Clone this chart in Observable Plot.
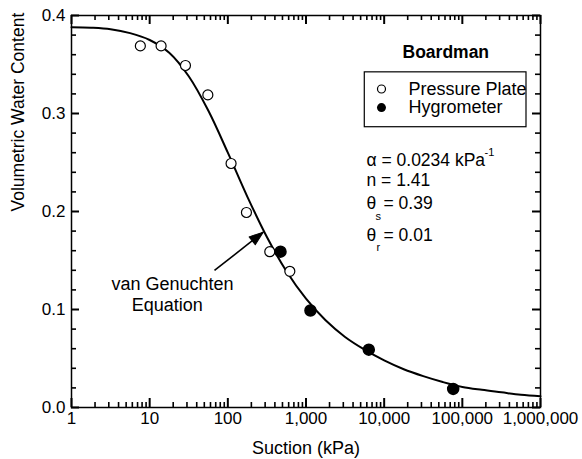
<!DOCTYPE html>
<html><head><meta charset="utf-8">
<script src="https://cdn.jsdelivr.net/npm/d3@7"></script>
<script src="https://cdn.jsdelivr.net/npm/@observablehq/plot@0.6"></script>
<style>
body{margin:0;background:#fff}
svg{font-family:"Liberation Sans",Arial,Helvetica,sans-serif}
</style>
</head><body><div id="chart"></div>
<script>
// ---- data ----
const ppSuction = [7.6, 14, 28.7, 55.5, 110, 173, 344, 621];
const ppTheta   = [0.369, 0.369, 0.349, 0.319, 0.249, 0.199, 0.159, 0.139];
const hySuction = [472, 1140, 6360, 76400];
const hyTheta   = [0.159, 0.099, 0.059, 0.019];

const curveSuction = [1, 1.78, 3.16, 5.62, 10, 17.8, 31.6, 56.2, 100, 178, 316, 562, 1000, 1780, 3160, 5620, 10000, 17800, 31600, 56200, 100000, 178000, 316000, 562000, 1000000];
const curveTheta   = [0.388, 0.3875, 0.386, 0.382, 0.375, 0.362, 0.338, 0.303, 0.260, 0.215, 0.174, 0.139, 0.111, 0.089, 0.072, 0.059, 0.048, 0.039, 0.032, 0.026, 0.021, 0.018, 0.0155, 0.013, 0.0115];

const xTicks = [1, 10, 100, 1000, 10000, 100000, 1000000];
const yTicks = [0, 0.1, 0.2, 0.3, 0.4];
const xMinorMultipliers = [2, 3, 4, 5, 6, 7, 8, 9];
const yMinorStep = 0.02;

const title = "Boardman";
const legendLabels = ["Pressure Plate", "Hygrometer"];
const xLabel = "Suction (kPa)";
const yLabel = "Volumetric Water Content";
const annotationLines = ["van Genuchten", "Equation"];
const paramAlpha = "α = 0.0234 kPa";
const paramAlphaSup = "-1";
const paramN = "n = 1.41";
const paramThetaS = "= 0.39";
const paramThetaR = "= 0.01";

// annotation anchors (data space)
const titlePos = {x: 61400, y: 0.3626};
const legendBox = {x1: 5650, x2: 662000, y1: 0.286, y2: 0.342};
const legendSymX = 9240, legendTextX = 20470, legendY = [0.325, 0.306];
const paramX = 5940, paramY = [0.252, 0.2316, 0.2085, 0.1755];
const arrowFrom = {x: 67.5, y: 0.1398}, arrowTo = {x: 283.5, y: 0.1789};
const annotX = [19.6, 16.8], annotY = [0.1255, 0.104];

// ---- build tables ----
const pp = ppSuction.map((s, i) => ({s, t: ppTheta[i]}));
const hy = hySuction.map((s, i) => ({s, t: hyTheta[i]}));
const curve = curveSuction.map((s, i) => ({s, t: curveTheta[i]}));
const xMinor = xTicks.slice(0, -1).flatMap(d => xMinorMultipliers.map(m => d * m));
const yMinor = d3.range(0, 0.4001, yMinorStep).map(v => +v.toFixed(2)).filter(v => !yTicks.includes(v));

const W = 582, H = 459, ML = 71, MR = 42, MT = 15, MB = 52;
const PW = W - ML - MR, PH = H - MT - MB;
const FONT = "Liberation Sans, Arial, Helvetica, sans-serif";

// filled arrow head
const arrowHead = {
  draw(context, l) {
    context.moveTo(0, -l);
    context.lineTo(-5, -l + 14);
    context.lineTo(5, -l + 14);
    context.closePath();
  }
};
// inward ticks as rules trimmed by pixel insets
const inTicksY = (data, len, sw) => [
  Plot.ruleY(data, {y: d => d, insetRight: PW - len, stroke: "black", strokeWidth: sw}),
  Plot.ruleY(data, {y: d => d, insetLeft: PW - len, stroke: "black", strokeWidth: sw})
];
const inTicksX = (data, len, sw) => [
  Plot.ruleX(data, {x: d => d, insetTop: PH - len, stroke: "black", strokeWidth: sw}),
  Plot.ruleX(data, {x: d => d, insetBottom: PH - len, stroke: "black", strokeWidth: sw})
];

const chart = Plot.plot({
  width: W, height: H,
  marginLeft: ML, marginRight: MR, marginTop: MT, marginBottom: MB,
  style: {fontFamily: FONT, background: "white", color: "black"},
  x: {type: "log", domain: [1, 1e6], label: null},
  y: {domain: [0, 0.4], label: null},
  marks: [
    Plot.axisY(yTicks, {anchor: "left", tickSize: 0, tickPadding: 6, tickFormat: d3.format(".1f"), fontSize: 17, label: null}),
    Plot.axisX(xTicks, {anchor: "bottom", tickSize: 0, tickPadding: 4, tickFormat: d3.format(","), fontSize: 17, label: null}),
    Plot.frame({stroke: "black", fill: "none", strokeWidth: 1.5}),
    inTicksY(yTicks, 8, 2),
    inTicksY(yMinor, 5, 1.6),
    inTicksX(xTicks, 9, 2),
    inTicksX(xMinor, 5, 1.6),
    // axis titles
    Plot.text([xLabel], {frameAnchor: "bottom", dy: 46, fontSize: 18, fill: "black"}),
    Plot.text([yLabel], {frameAnchor: "left", dx: -53, rotate: -90, fontSize: 17.5, fill: "black"}),
    // curve
    Plot.line(curve, {x: "s", y: "t", stroke: "black", strokeWidth: 2, curve: "catmull-rom"}),
    // data
    Plot.dot(pp, {x: "s", y: "t", r: 5, stroke: "black", fill: "white", strokeWidth: 1.2}),
    Plot.dot(hy, {x: "s", y: "t", r: 5.5, fill: "black", stroke: "black"}),
    // title
    Plot.text([title], {x: titlePos.x, y: titlePos.y, fontSize: 17.5, fontWeight: "bold", fill: "black"}),
    // legend
    Plot.rect([legendBox], {x1: "x1", x2: "x2", y1: "y1", y2: "y2", fill: "white", stroke: "black", strokeWidth: 1.2}),
    Plot.dot([0], {x: legendSymX, y: legendY[0], r: 4, stroke: "black", fill: "white", strokeWidth: 1.2}),
    Plot.dot([0], {x: legendSymX, y: legendY[1], r: 4.5, fill: "black"}),
    Plot.text(legendLabels, {x: legendTextX, y: (d, i) => legendY[i], textAnchor: "start", fontSize: 18, fill: "black"}),
    // parameters
    Plot.text([paramAlpha], {x: paramX, y: paramY[0], textAnchor: "start", fontSize: 17.5, fill: "black"}),
    Plot.text([paramAlphaSup], {x: paramX, y: paramY[0], dx: 118, dy: -8, textAnchor: "start", fontSize: 11, fill: "black"}),
    Plot.text([paramN], {x: paramX, y: paramY[1], textAnchor: "start", fontSize: 17.5, fill: "black"}),
    Plot.text(["θ"], {x: paramX, y: paramY[2], textAnchor: "start", fontSize: 17.5, fill: "black"}),
    Plot.text(["s"], {x: paramX, y: paramY[2], dx: 9, dy: 13, textAnchor: "start", fontSize: 11, fill: "black"}),
    Plot.text([paramThetaS], {x: paramX, y: paramY[2], dx: 17, textAnchor: "start", fontSize: 17.5, fill: "black"}),
    Plot.text(["θ"], {x: paramX, y: paramY[3], textAnchor: "start", fontSize: 17.5, fill: "black"}),
    Plot.text(["r"], {x: paramX, y: paramY[3], dx: 10, dy: 12, textAnchor: "start", fontSize: 11, fill: "black"}),
    Plot.text([paramThetaR], {x: paramX, y: paramY[3], dx: 17, textAnchor: "start", fontSize: 17.5, fill: "black"}),
    // annotation arrow
    Plot.link([0], {x1: arrowFrom.x, y1: arrowFrom.y, x2: arrowTo.x, y2: arrowTo.y, stroke: "black", strokeWidth: 1.6}),
    Plot.vector([0], {x: arrowTo.x, y: arrowTo.y, length: 14, rotate: 52, anchor: "end", shape: arrowHead, fill: "black", stroke: "black", strokeWidth: 1}),
    Plot.text(annotationLines, {x: (d, i) => annotX[i], y: (d, i) => annotY[i], fontSize: 18, fill: "black"})
  ]
});
document.getElementById("chart").appendChild(chart);
</script></body></html>
